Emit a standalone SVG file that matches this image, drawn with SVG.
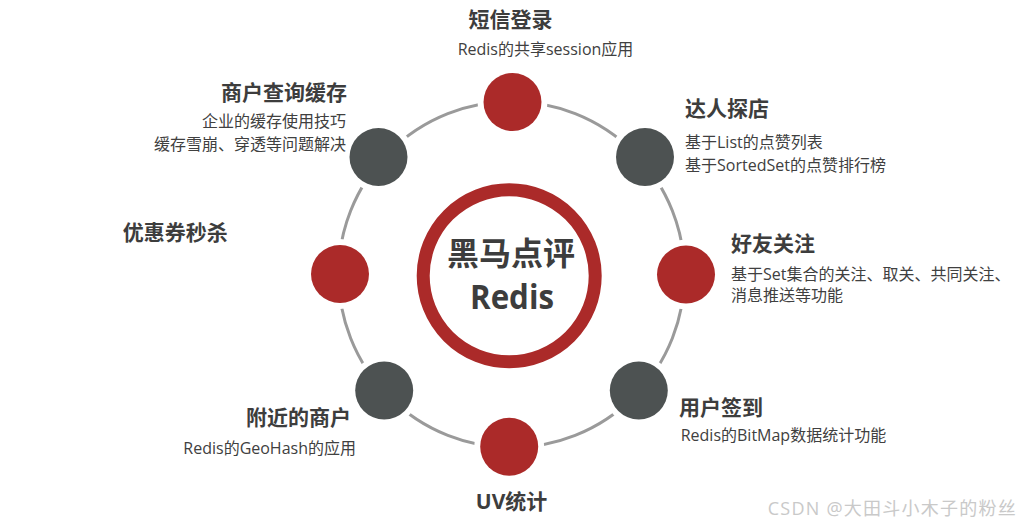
<svg xmlns="http://www.w3.org/2000/svg" width="1021" height="527" viewBox="0 0 1021 527">
<style>
text{font-family:"Open Sans","Noto Sans CJK SC",sans-serif;fill:#3d3d3d}
.t{font-size:21px;font-weight:700}
.s{font-size:16px;fill:#404040}
.red{fill:#AB2A29}
.gray{fill:#4D5252}
.gap{fill:#ffffff}
.wm{font-size:18px;fill:#c9c9c9}
</style>
<rect width="1021" height="527" fill="#ffffff"/>
<g id="connectors">
<circle cx="511.5" cy="274.5" r="173" fill="none" stroke="#9a9a9a" stroke-width="3"/>
</g>
<g id="center">
<circle cx="509.2" cy="275.8" r="86" fill="#ffffff" stroke="#AB2A29" stroke-width="13"/>
<text x="511" y="265" text-anchor="middle" style="font-size:32px;font-weight:700">黑马点评</text>
<text x="470" y="309" textLength="84" lengthAdjust="spacingAndGlyphs" style="font-size:34px;font-weight:700">Redis</text>
</g>
<g id="node-sms">
<circle class="gap" cx="512.5" cy="102" r="35"/>
<circle class="red" cx="512.5" cy="102" r="29"/>
<text class="t" x="510.5" y="27" text-anchor="middle">短信登录</text>
<text class="s" x="545.5" y="55" text-anchor="middle">Redis的共享session应用</text>
</g>
<g id="node-cache">
<circle class="gap" cx="378.5" cy="157" r="35"/>
<circle class="gray" cx="378.5" cy="157" r="29"/>
<text class="t" x="347" y="100" text-anchor="end">商户查询缓存</text>
<text class="s" x="346" y="127" text-anchor="end">企业的缓存使用技巧</text>
<text class="s" x="346" y="150" text-anchor="end">缓存雪崩、穿透等问题解决</text>
</g>
<g id="node-blog">
<circle class="gap" cx="645" cy="157" r="35"/>
<circle class="gray" cx="645" cy="157" r="29"/>
<text class="t" x="685" y="116">达人探店</text>
<text class="s" x="685" y="148">基于List的点赞列表</text>
<text class="s" x="685" y="170.5">基于SortedSet的点赞排行榜</text>
</g>
<g id="node-follow">
<circle class="gap" cx="686" cy="274.5" r="35"/>
<circle class="red" cx="686" cy="274.5" r="29"/>
<text class="t" x="731" y="251">好友关注</text>
<text class="s" x="731" y="280">基于Set集合的关注、取关、共同关注、</text>
<text class="s" x="731" y="301">消息推送等功能</text>
</g>
<g id="node-seckill">
<circle class="gap" cx="340" cy="274" r="35"/>
<circle class="red" cx="340" cy="274" r="29"/>
<text class="t" x="122.7" y="240">优惠券秒杀</text>
</g>
<g id="node-nearby">
<circle class="gap" cx="384.2" cy="390.5" r="35"/>
<circle class="gray" cx="384.2" cy="390.5" r="29"/>
<text class="t" x="351" y="425" text-anchor="end">附近的商户</text>
<text class="s" x="356" y="454" text-anchor="end">Redis的GeoHash的应用</text>
</g>
<g id="node-sign">
<circle class="gap" cx="638.8" cy="390.5" r="35"/>
<circle class="gray" cx="638.8" cy="390.5" r="29"/>
<text class="t" x="679" y="415">用户签到</text>
<text class="s" x="680.7" y="440.7">Redis的BitMap数据统计功能</text>
</g>
<g id="node-uv">
<circle class="gap" cx="509.2" cy="446.7" r="35"/>
<circle class="red" cx="509.2" cy="446.7" r="29"/>
<text class="t" x="511.6" y="509" text-anchor="middle">UV统计</text>
</g>
<text class="wm" x="767.7" y="515" textLength="248" lengthAdjust="spacing">CSDN @大田斗小木子的粉丝</text>
</svg>
